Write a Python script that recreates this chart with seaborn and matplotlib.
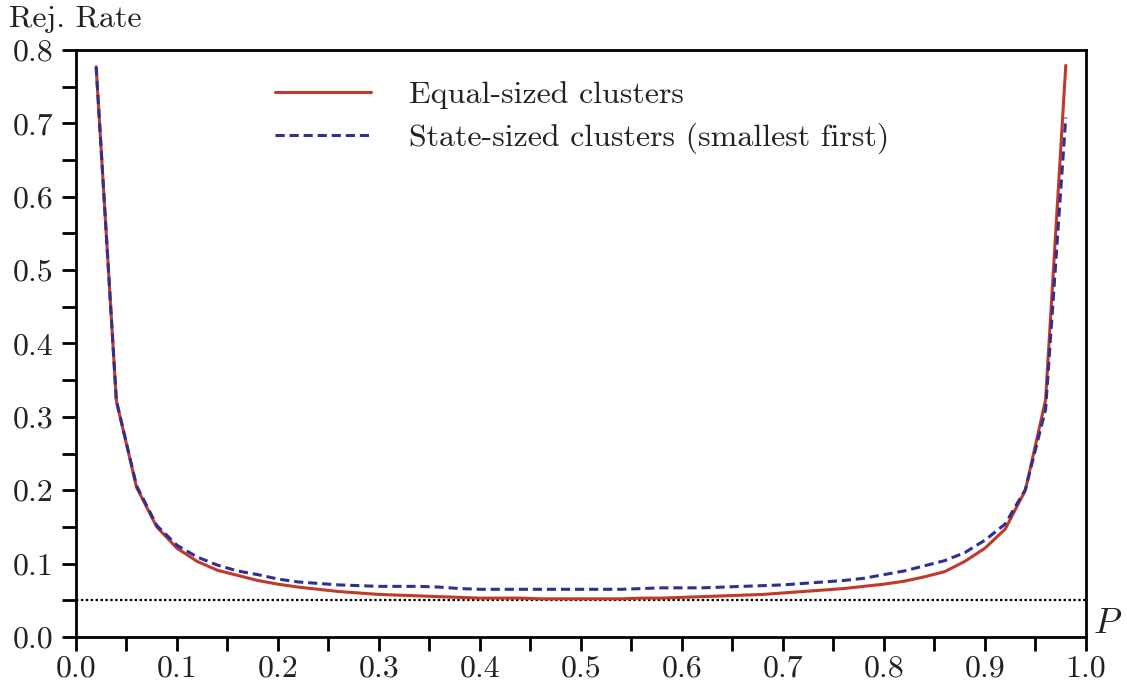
import matplotlib
matplotlib.use("Agg")
import matplotlib.pyplot as plt
from matplotlib.ticker import MultipleLocator
import seaborn as sns
import pandas as pd

# ==========================================
# Data
# ==========================================
p_values = [0.02, 0.04, 0.06, 0.08, 0.10, 0.12, 0.14, 0.16, 0.18, 0.20,
            0.22, 0.24, 0.26, 0.28, 0.30, 0.32, 0.34, 0.36, 0.38, 0.40,
            0.42, 0.44, 0.46, 0.48, 0.50, 0.52, 0.54, 0.56, 0.58, 0.60,
            0.62, 0.64, 0.66, 0.68, 0.70, 0.72, 0.74, 0.76, 0.78, 0.80,
            0.82, 0.84, 0.86, 0.88, 0.90, 0.92, 0.94, 0.96, 0.98]

equal_sized = [0.777, 0.322, 0.204, 0.150, 0.121, 0.103, 0.091, 0.084, 0.077, 0.072,
               0.068, 0.065, 0.062, 0.060, 0.058, 0.057, 0.056, 0.055, 0.054, 0.053,
               0.053, 0.053, 0.052, 0.052, 0.052, 0.052, 0.052, 0.053, 0.053, 0.054,
               0.055, 0.056, 0.057, 0.058, 0.060, 0.062, 0.064, 0.066, 0.069, 0.072,
               0.076, 0.082, 0.089, 0.103, 0.121, 0.147, 0.200, 0.323, 0.779]

state_sized = [0.777, 0.322, 0.206, 0.152, 0.125, 0.109, 0.098, 0.090, 0.085, 0.079,
               0.075, 0.073, 0.071, 0.070, 0.069, 0.069, 0.069, 0.068, 0.066, 0.065,
               0.065, 0.065, 0.065, 0.065, 0.065, 0.065, 0.065, 0.066, 0.067, 0.067,
               0.067, 0.068, 0.069, 0.070, 0.071, 0.073, 0.075, 0.077, 0.080, 0.085,
               0.090, 0.097, 0.104, 0.115, 0.132, 0.154, 0.201, 0.310, 0.708]

nominal_level = 0.05

labels = ["Equal-sized clusters", "State-sized clusters (smallest first)"]

df = pd.DataFrame({
    "P": p_values * 2,
    "rate": equal_sized + state_sized,
    "series": [labels[0]] * len(p_values) + [labels[1]] * len(p_values),
})

# ==========================================
# Style
# ==========================================
sns.set_theme(style="white")
plt.rcParams["font.family"] = ["cmr10", "DejaVu Serif"]
plt.rcParams["mathtext.fontset"] = "cm"
plt.rcParams["axes.formatter.use_mathtext"] = True

fig = plt.figure(figsize=(11.27, 6.98), dpi=100)
ax = fig.add_axes([0.0674, 0.0874, 0.8962, 0.841])

ax = sns.lineplot(
    data=df, x="P", y="rate", hue="series", style="series",
    palette={labels[0]: "#C0392B", labels[1]: "#2E3192"},
    dashes={labels[0]: "", labels[1]: (3.0, 1.6)},
    linewidth=2.2, ax=ax, legend=True,
)

ax.axhline(nominal_level, color="black", linestyle=(0, (1.1, 1.1)), linewidth=1.6, zorder=1)

ax.set_xlim(0.0, 1.0)
ax.set_ylim(0.0, 0.8)
ax.xaxis.set_major_locator(MultipleLocator(0.1))
ax.xaxis.set_minor_locator(MultipleLocator(0.05))
ax.yaxis.set_major_locator(MultipleLocator(0.1))
ax.yaxis.set_minor_locator(MultipleLocator(0.05))
ax.xaxis.set_major_formatter(plt.FuncFormatter(lambda v, _: f"{v:.1f}"))
ax.yaxis.set_major_formatter(plt.FuncFormatter(lambda v, _: f"{v:.1f}"))

ax.tick_params(axis="both", which="both", direction="out", length=10, width=2,
               color="black", labelsize=23, labelcolor="#222222",
               bottom=True, left=True, top=False, right=False)
ax.tick_params(axis="y", which="both", pad=6)
ax.tick_params(axis="x", which="both", pad=3)

for side in ["left", "bottom", "top", "right"]:
    ax.spines[side].set_visible(True)
    ax.spines[side].set_color("black")
    ax.spines[side].set_linewidth(2)

ax.set_xlabel("")
ax.set_ylabel("")
fig.text(0.008, 0.962, "Rej. Rate", fontsize=23, color="#222222", ha="left", va="baseline")
fig.text(0.970, 0.093, "$P$", fontsize=26, color="#222222", ha="left", va="baseline")

leg = ax.legend(loc="upper left", bbox_to_anchor=(0.197, 0.947), frameon=False,
                borderaxespad=0, borderpad=0,
                fontsize=23, handlelength=3.0, handletextpad=1.2, labelspacing=0.42)
for t in leg.get_texts():
    t.set_color("#222222")

plt.savefig("out.png", dpi=100)
plt.close()
